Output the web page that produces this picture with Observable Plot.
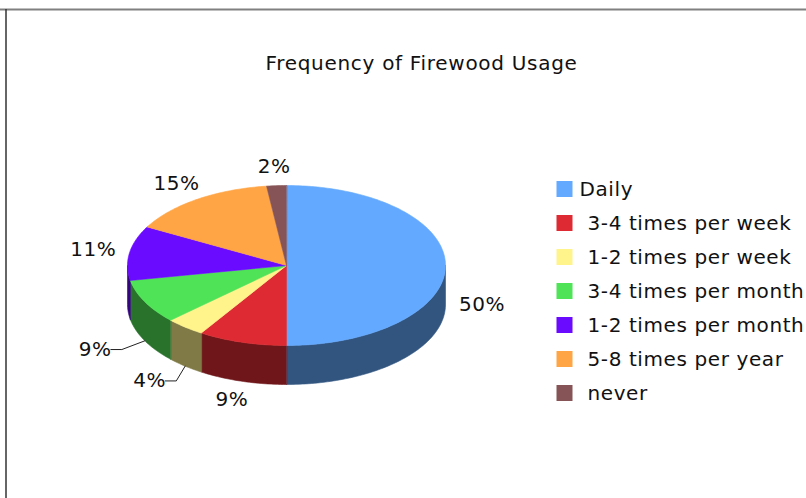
<!DOCTYPE html>
<html><head><meta charset="utf-8">
<script src="https://cdn.jsdelivr.net/npm/d3@7"></script>
<script src="https://cdn.jsdelivr.net/npm/@observablehq/plot@0.6"></script>
<style>
body{margin:0;background:#fff}
.spaced text{letter-spacing:0.6px}
.ttl text{letter-spacing:0.7px}
</style>
</head><body><div id="chart"></div>
<script>
// ---- data ----
const categories = ["Daily", "3-4 times per week", "1-2 times per week", "3-4 times per month", "1-2 times per month", "5-8 times per year", "never"];
const shares = [50, 9, 4, 9, 11, 15, 2];
const colors = ["#63A9FF", "#DE2B33", "#FFF38B", "#4FE357", "#6A0AFF", "#FFA545", "#865456"];
const title = "Frequency of Firewood Usage";

// ---- layout ----
const W = 806, H = 498;
const cx = 286, cy = 265, rx = 159, ry = 80, depth = 39;
const total = d3.sum(shares);
const arcs = d3.pie().sort(null).value(d => d)(shares);
const pt = (a, dy = 0, kx = 1, ky = 1) => [cx + kx * rx * Math.sin(a), cy - ky * ry * Math.cos(a) + dy];
const dark = c => { const k = d3.rgb(c); return d3.rgb(k.r / 2, k.g / 2, k.b / 2).formatHex(); };

function arcPts(a0, a1, dy) {
  const n = Math.max(2, Math.ceil((a1 - a0) / 0.02));
  return d3.range(n + 1).map(i => pt(a0 + (a1 - a0) * i / n, dy));
}

// side walls (front half only: angles between PI/2 and 3PI/2)
const sideRows = [];
arcs.forEach((a, i) => {
  const s = Math.max(a.startAngle, Math.PI / 2), e = Math.min(a.endAngle, 3 * Math.PI / 2);
  if (e <= s) return;
  const pts = arcPts(s, e, 0).concat(arcPts(s, e, depth).reverse());
  pts.forEach(([x, y]) => sideRows.push({id: "s" + i, x, y, fill: dark(colors[i])}));
});
// top faces
const topRows = [];
arcs.forEach((a, i) => {
  const pts = [[cx, cy]].concat(arcPts(a.startAngle, a.endAngle, 0));
  pts.forEach(([x, y]) => topRows.push({id: "t" + i, x, y, fill: colors[i]}));
});

// labels
const labels = arcs.map((a, i) => {
  const m = (a.startAngle + a.endAngle) / 2;
  const front = Math.cos(m) <= 0;
  const leader = front && shares[i] / total < 0.1 && Math.abs(Math.sin(m)) > 0.5;
  const [x, y] = pt(m, front ? depth : 0, leader ? 1.35 : 1.23, 1.24);
  return {x, y, m, front, leader, text: Math.round(shares[i] / total * 100) + "%"};
});
const leaderRows = [];
labels.forEach((l, i) => {
  if (!l.leader) return;
  const [bx, by] = pt(l.m, depth);
  const right = l.x + l.text.length * 6.3 + 3;
  leaderRows.push({id: i, x: bx, y: by});
  leaderRows.push({id: i, x: right + 11, y: l.y});
  leaderRows.push({id: i, x: right, y: l.y});
});

// legend
const legend = categories.map((c, i) => ({c, i, y: 189 + 34 * i, color: colors[i]}));

const chart = Plot.plot({
  width: W, height: H,
  margin: 0,
  x: {domain: [0, W], range: [0, W], axis: null},
  y: {domain: [0, H], range: [0, H], axis: null},
  color: {type: "identity"},
  style: {fontFamily: "'DejaVu Sans', Verdana, sans-serif", background: "#fff"},
  marks: [
    Plot.ruleY([9], {stroke: "#808080", strokeWidth: 2}),
    Plot.ruleX([5.5], {y1: 9, y2: H, stroke: "#333", strokeWidth: 1.5}),
    Plot.text([title], {x: () => 421, y: () => 63, text: d => d, fontSize: 20, fill: "#111", className: "ttl"}),
    Plot.line(sideRows, {x: "x", y: "y", z: "id", fill: "fill", stroke: "fill", strokeWidth: 0.6, curve: "linear-closed"}),
    Plot.line(topRows, {x: "x", y: "y", z: "id", fill: "fill", stroke: "fill", strokeWidth: 0.6, curve: "linear-closed"}),
    Plot.line(leaderRows, {x: "x", y: "y", z: "id", stroke: "#222", strokeWidth: 1}),
    Plot.text(labels, {x: "x", y: "y", text: "text", fontSize: 20, fill: "#111", className: "spaced"}),
    Plot.rect(legend, {x1: () => 556.5, x2: () => 572.5, y1: d => d.y - 8, y2: d => d.y + 8, fill: "color"}),
    Plot.text(legend, {x: d => d.i === 0 ? 579 : 587, y: "y", text: "c", textAnchor: "start", fontSize: 20, fill: "#111", className: "spaced"})
  ]
});
document.getElementById("chart").append(chart);
</script>
</body></html>
